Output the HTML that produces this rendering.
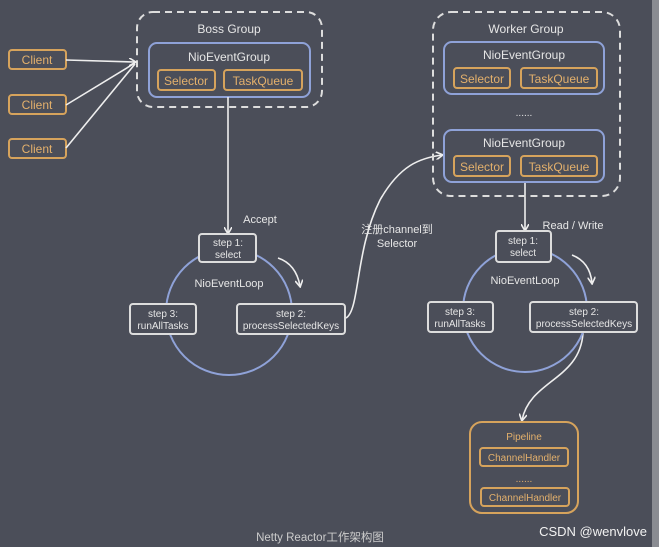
<!DOCTYPE html>
<html><head><meta charset="utf-8"><style>
html,body{margin:0;padding:0;width:659px;height:547px;overflow:hidden;background:#4b4e59}
svg{display:block}
text{font-family:"Liberation Sans","Noto Sans CJK SC",sans-serif}
</style></head><body>
<svg width="659" height="547" viewBox="0 0 659 547">
<rect x="0" y="0" width="659" height="547" fill="#4b4e59"/>
<rect x="652" y="0" width="7" height="547" fill="#8a8c92"/>
<defs><marker id="a" markerWidth="8" markerHeight="8" refX="6" refY="4" orient="auto" markerUnits="userSpaceOnUse"><path d="M0,0 L7,4 L0,8" fill="none" stroke="#eee" stroke-width="1.6"/></marker></defs>
<g fill="none" stroke-width="2">
<rect x="137" y="12" width="185" height="95" rx="16" stroke="#ddd" stroke-dasharray="7,5"/>
<rect x="149" y="43" width="161" height="54" rx="8" stroke="#8fa2d8"/>
<rect x="158" y="70" width="57" height="20" rx="3" stroke="#d6a35c"/>
<rect x="224" y="70" width="78" height="20" rx="3" stroke="#d6a35c"/>
<rect x="9" y="50" width="57" height="19" rx="3" stroke="#d6a35c"/>
<rect x="9" y="95" width="57" height="19" rx="3" stroke="#d6a35c"/>
<rect x="9" y="139" width="57" height="19" rx="3" stroke="#d6a35c"/>
</g>
<g stroke="#eee" stroke-width="1.6" fill="none">
<line x1="66" y1="60" x2="135" y2="62" marker-end="url(#a)"/>
<line x1="66" y1="105" x2="135" y2="63"/>
<line x1="66" y1="148" x2="135" y2="64"/>
<line x1="228" y1="97" x2="228" y2="233" marker-end="url(#a)"/>
<line x1="525" y1="182" x2="525" y2="230" marker-end="url(#a)"/>
<path d="M278,258 Q296,264 300,286" marker-end="url(#a)"/>
<path d="M572,255 Q590,262 592,283" marker-end="url(#a)"/>
<path d="M346,318 C360,310 355,250 380,200 C400,165 420,158 442,155" marker-end="url(#a)"/>
<path d="M583,333 C580,380 530,380 522,420" marker-end="url(#a)"/>
</g>
<g fill="none" stroke-width="2">
<circle cx="229" cy="312" r="63" stroke="#8fa2d8"/>
<circle cx="525" cy="310" r="62" stroke="#8fa2d8"/>
<rect x="199" y="234" width="57" height="28" rx="3" stroke="#ddd" fill="#4b4e59"/>
<rect x="130" y="304" width="66" height="30" rx="3" stroke="#ddd" fill="#4b4e59"/>
<rect x="237" y="304" width="108" height="30" rx="3" stroke="#ddd" fill="#4b4e59"/>
<rect x="496" y="231" width="55" height="31" rx="3" stroke="#ddd" fill="#4b4e59"/>
<rect x="428" y="302" width="65" height="30" rx="3" stroke="#ddd" fill="#4b4e59"/>
<rect x="530" y="302" width="107" height="30" rx="3" stroke="#ddd" fill="#4b4e59"/>
<rect x="433" y="12" width="187" height="184" rx="18" stroke="#ddd" stroke-dasharray="7,5"/>
<rect x="444" y="42" width="160" height="52" rx="8" stroke="#8fa2d8"/>
<rect x="454" y="68" width="56" height="20" rx="3" stroke="#d6a35c"/>
<rect x="521" y="68" width="76" height="20" rx="3" stroke="#d6a35c"/>
<rect x="444" y="130" width="160" height="52" rx="8" stroke="#8fa2d8"/>
<rect x="454" y="156" width="56" height="20" rx="3" stroke="#d6a35c"/>
<rect x="521" y="156" width="76" height="20" rx="3" stroke="#d6a35c"/>
<rect x="470" y="422" width="108" height="91" rx="12" stroke="#d6a35c"/>
<rect x="480" y="448" width="88" height="18" rx="3" stroke="#d6a35c"/>
<rect x="481" y="488" width="88" height="18" rx="3" stroke="#d6a35c"/>
</g>
<g fill="#e6e6e6" font-size="12" text-anchor="middle">
<text x="229" y="33">Boss Group</text>
<text x="229" y="61">NioEventGroup</text>
<text x="526" y="33">Worker Group</text>
<text x="524" y="59">NioEventGroup</text>
<text x="524" y="147">NioEventGroup</text>
<text x="524" y="116" font-size="10">......</text>
<text x="260" y="223" font-size="11">Accept</text>
<text x="573" y="229" font-size="11">Read / Write</text>
<text x="397" y="233" font-size="11">注册channel到</text>
<text x="397" y="247" font-size="11">Selector</text>
<text x="229" y="287" font-size="11">NioEventLoop</text>
<text x="525" y="284" font-size="11">NioEventLoop</text>
<g font-size="10">
<text x="228" y="246">step 1:</text><text x="228" y="258">select</text>
<text x="163" y="317">step 3:</text><text x="163" y="329">runAllTasks</text>
<text x="291" y="317">step 2:</text><text x="291" y="329">processSelectedKeys</text>
<text x="523" y="244">step 1:</text><text x="523" y="256">select</text>
<text x="460" y="315">step 3:</text><text x="460" y="327">runAllTasks</text>
<text x="584" y="315">step 2:</text><text x="584" y="327">processSelectedKeys</text>
</g>
<text x="320" y="541" font-size="11.5" fill="#ccc">Netty Reactor工作架构图</text>
</g>
<g fill="#e3b06c" font-size="12" text-anchor="middle">
<text x="37" y="64">Client</text><text x="37" y="109">Client</text><text x="37" y="153">Client</text>
<text x="186" y="85">Selector</text><text x="263" y="85">TaskQueue</text>
<text x="482" y="83">Selector</text><text x="559" y="83">TaskQueue</text>
<text x="482" y="171">Selector</text><text x="559" y="171">TaskQueue</text>
<g font-size="10"><text x="524" y="440">Pipeline</text>
<text x="524" y="461">ChannelHandler</text><text x="524" y="482">......</text>
<text x="525" y="501">ChannelHandler</text></g>
</g>
<text x="593" y="536" font-size="13" fill="#f2f2f2" text-anchor="middle">CSDN @wenvlove</text>
</svg>
</body></html>
